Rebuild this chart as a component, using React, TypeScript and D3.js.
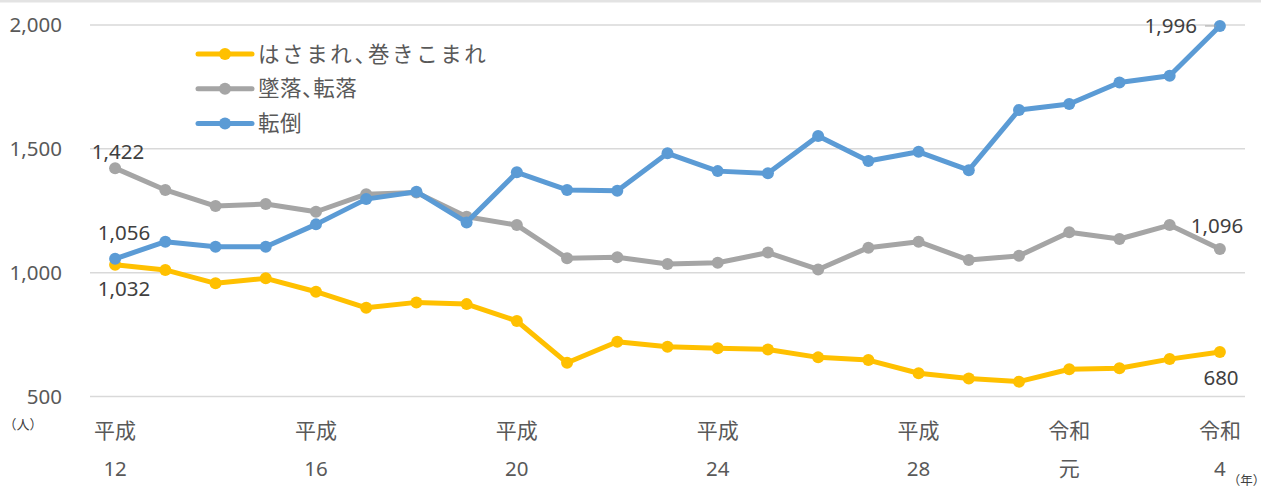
import React from "react";
import * as d3 from "d3";

const eras = ["平成","平成","平成","平成","平成","平成","平成","平成","平成","平成","平成","平成","平成","平成","平成","平成","平成","平成","平成","令和","令和","令和","令和"];
const years = ["12","13","14","15","16","17","18","19","20","21","22","23","24","25","26","27","28","29","30","元","2","3","4"];
const shownTicks = [0, 4, 8, 12, 16, 19, 22];
const yTicks = [500, 1000, 1500, 2000];

const hasamare = [1032, 1011, 957, 977, 923, 858, 880, 873, 805, 636, 721, 701, 695, 690, 658, 647, 594, 573, 560, 610, 614, 651, 680];
const tsuiraku = [1422, 1334, 1269, 1277, 1246, 1317, 1324, 1226, 1192, 1058, 1062, 1035, 1040, 1081, 1013, 1101, 1125, 1051, 1068, 1163, 1136, 1192, 1096];
const tentou = [1056, 1125, 1105, 1105, 1195, 1297, 1327, 1203, 1405, 1334, 1331, 1482, 1410, 1401, 1552, 1451, 1488, 1414, 1657, 1681, 1768, 1795, 1996];

const seriesNames = ["はさまれ、巻きこまれ", "墜落、転落", "転倒"];
const seriesColors = ["#FFC000", "#A5A5A5", "#5B9BD5"];
const seriesData = [hasamare, tsuiraku, tentou];

const W = 1261, H = 488;
const numFont = "'Noto Sans', 'Open Sans', sans-serif";
const jpFont = "'Noto Sans CJK JP', sans-serif";
const NF = 20.5;

export default function App() {
  const x = d3.scaleBand<number>().domain(d3.range(years.length)).range([90, 1245]).padding(0);
  const cx = (i: number) => (x(i) as number) + x.bandwidth() / 2;
  const y = d3.scaleLinear().domain([500, 2000]).range([396.5, 25]);
  const line = d3.line<number>().x((_, i) => cx(i)).y((d) => y(d));
  const fmt = d3.format(",");
  const last = years.length - 1;
  const halt = { fontFeatureSettings: '"halt"' };

  return (
    <svg width={W} height={H} style={{ position: "absolute", left: 0, top: 0, background: "#fff" }}>
      <rect x={0} y={0} width={W} height={H} fill="#fff" />
      <line x1={0} x2={W} y1={1} y2={1} stroke="#e3e3e3" strokeWidth={3} />
      {yTicks.map((t) => (
        <g key={t}>
          <line x1={90} x2={1245} y1={y(t)} y2={y(t)} stroke="#d9d9d9" strokeWidth={1.5} />
          <text x={62} y={y(t)} dy="0.35em" textAnchor="end" fontFamily={numFont} fontSize={NF} fill="#595959">
            {fmt(t)}
          </text>
        </g>
      ))}
      <text x={10} y={424} dy="0.35em" fontFamily={jpFont} fontSize={13} fill="#404040" style={halt}>（人）</text>
      <text x={1259} y={481} dy="0.35em" textAnchor="end" fontFamily={jpFont} fontSize={12.5} fill="#404040" style={halt}>（年）</text>
      {shownTicks.map((i) => (
        <g key={i}>
          <text x={cx(i)} y={431} dy="0.35em" textAnchor="middle" fontFamily={jpFont} fontSize={21} fill="#595959">{eras[i]}</text>
          <text x={cx(i)} y={469} dy="0.35em" textAnchor="middle" fontFamily={/\d/.test(years[i]) ? numFont : jpFont} fontSize={/\d/.test(years[i]) ? NF : 21} fill="#595959">{years[i]}</text>
        </g>
      ))}
      {seriesData.map((s, k) => (
        <g key={k}>
          <path d={line(s) as string} fill="none" stroke={seriesColors[k]} strokeWidth={5} strokeLinejoin="round" />
          {s.map((v, i) => (
            <circle key={i} cx={cx(i)} cy={y(v)} r={6} fill={seriesColors[k]} />
          ))}
        </g>
      ))}
      {/* data labels */}
      <text x={118} y={152} dy="0.35em" textAnchor="middle" fontFamily={numFont} fontSize={NF} fill="#404040">{fmt(tsuiraku[0])}</text>
      <text x={124} y={233} dy="0.35em" textAnchor="middle" fontFamily={numFont} fontSize={NF} fill="#404040">{fmt(tentou[0])}</text>
      <text x={124} y={289} dy="0.35em" textAnchor="middle" fontFamily={numFont} fontSize={NF} fill="#404040">{fmt(hasamare[0])}</text>
      <line x1={1205} x2={cx(last) - 4} y1={y(tentou[last])} y2={y(tentou[last])} stroke="#A5A5A5" strokeWidth={1} />
      <text x={1197} y={y(tentou[last])} dy="0.35em" textAnchor="end" fontFamily={numFont} fontSize={NF} fill="#404040">{fmt(tentou[last])}</text>
      <text x={1217} y={226} dy="0.35em" textAnchor="middle" fontFamily={numFont} fontSize={NF} fill="#404040">{fmt(tsuiraku[last])}</text>
      <text x={1221} y={378} dy="0.35em" textAnchor="middle" fontFamily={numFont} fontSize={NF} fill="#404040">{fmt(hasamare[last])}</text>
      {/* legend */}
      {seriesNames.map((n, k) => {
        const ly = 54 + k * 34.8;
        return (
          <g key={n}>
            <line x1={198} x2={252} y1={ly} y2={ly} stroke={seriesColors[k]} strokeWidth={5} strokeLinecap="round" />
            <circle cx={225} cy={ly} r={6} fill={seriesColors[k]} />
            <text x={258} y={ly} dy="0.35em" fontFamily={jpFont} fontSize={21.5} fill="#595959" style={{ ...halt, letterSpacing: k === 0 ? "2.6px" : "0.5px" }}>{n}</text>
          </g>
        );
      })}
    </svg>
  );
}
